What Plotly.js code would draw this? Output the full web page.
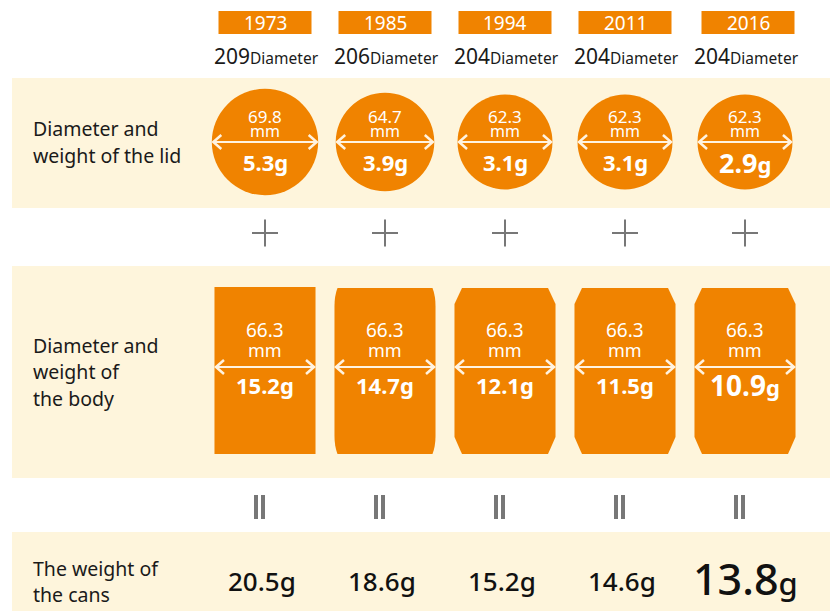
<!DOCTYPE html>
<html>
<head>
<meta charset="utf-8">
<script src="https://cdn.plot.ly/plotly-3.0.1.min.js"></script>
<style>html,body{margin:0;padding:0;background:#fff;}#chart{width:830px;height:611px;}</style>
</head>
<body>
<div id="chart"></div>
<script>
// ---- data ----
const years = ['1973', '1985', '1994', '2011', '2016'];
const canSize = [209, 206, 204, 204, 204];
const lidDiameter = [69.8, 64.7, 62.3, 62.3, 62.3];
const lidWeight = [5.3, 3.9, 3.1, 3.1, 2.9];
const bodyDiameter = [66.3, 66.3, 66.3, 66.3, 66.3];
const bodyWeight = [15.2, 14.7, 12.1, 11.5, 10.9];
const canWeight = [20.5, 18.6, 15.2, 14.6, 13.8];
const lidLabel = ['Diameter and', 'weight of the lid'];
const bodyLabel = ['Diameter and', 'weight of', 'the body'];
const totalLabel = ['The weight of', 'the cans'];

// ---- layout constants ----
const colX = [265, 385, 505, 625, 745];
const pxPerMm = 1.524;
const ORANGE = '#F08300';
const BAND = '#FEF5DC';
const GRAY = '#777777';
const ARROW = '#FFF3E0';
const FONT = 'Noto Sans, Open Sans, sans-serif';
const lidY = 142, bodyTop = 287, bodyBot = 454, bodyArrowY = 367;
const last = years.length - 1;

const shapes = [];
const ann = [];

// bands
[[78, 208], [266, 478], [532, 611]].forEach(b => {
  shapes.push({type: 'rect', xref: 'x', yref: 'y', x0: 12, x1: 830, y0: b[0], y1: b[1], fillcolor: BAND, line: {width: 0}, layer: 'below'});
});

// row labels (one annotation per line)
function rowLabel(lines, y0, step) {
  lines.forEach((t, k) => {
    ann.push({x: 32, y: y0 + k * step, xref: 'x', yref: 'y', xanchor: 'left', yanchor: 'middle', align: 'left', showarrow: false,
      borderpad: 0, text: t, font: {family: FONT, size: 19.5, color: '#1a1a1a'}});
  });
}
rowLabel(lidLabel, 128, 27);
rowLabel(bodyLabel, 345, 26.5);
rowLabel(totalLabel, 568, 26.5);

function arrow(cx, cy, half) {
  const l = cx - half + 1.5, r = cx + half - 1.5;
  shapes.push({type: 'line', xref: 'x', yref: 'y', x0: l, x1: r, y0: cy, y1: cy, line: {color: ARROW, width: 2}});
  shapes.push({type: 'path', xref: 'x', yref: 'y', path: `M ${l + 8},${cy - 7} L ${l},${cy} L ${l + 8},${cy + 7}`, line: {color: ARROW, width: 2.5}});
  shapes.push({type: 'path', xref: 'x', yref: 'y', path: `M ${r - 8},${cy - 7} L ${r},${cy} L ${r - 8},${cy + 7}`, line: {color: ARROW, width: 2.5}});
}

function weightText(v, i, big) {
  const s = v.toFixed(1);
  if (i === last) return `<b><span style="font-size:${big}px">${s}</span>g</b>`;
  return `<b>${s}g</b>`;
}

years.forEach((yr, i) => {
  const cx = colX[i];
  // year box
  const bx = cx + (i === last ? 3 : 0);
  shapes.push({type: 'rect', xref: 'x', yref: 'y', x0: bx - 46.5, x1: bx + 46.5, y0: 11, y1: 34, fillcolor: ORANGE, line: {width: 0}});
  ann.push({x: bx, y: 23, xref: 'x', yref: 'y', showarrow: false, borderpad: 0, text: yr, font: {family: FONT, size: 19, color: '#ffffff'}});
  ann.push({x: cx + 1, y: 56, xref: 'x', yref: 'y', showarrow: false, borderpad: 0,
    text: `${canSize[i]}<span style="font-size:15.5px">Diameter</span>`, font: {family: FONT, size: 21, color: '#1a1a1a'}});

  // lid circle
  const r = lidDiameter[i] * pxPerMm / 2;
  shapes.push({type: 'circle', xref: 'x', yref: 'y', x0: cx - r, x1: cx + r, y0: lidY - r, y1: lidY + r, fillcolor: ORANGE, line: {width: 0}});
  arrow(cx, lidY, r);
  ann.push({x: cx, y: lidY - 26, xref: 'x', yref: 'y', showarrow: false, borderpad: 0, text: lidDiameter[i].toFixed(1), font: {family: FONT, size: 17, color: '#fff'}});
  ann.push({x: cx, y: lidY - 11, xref: 'x', yref: 'y', showarrow: false, borderpad: 0, text: 'mm', font: {family: FONT, size: 16, color: '#fff'}});
  ann.push({x: cx, y: lidY + 20, xref: 'x', yref: 'y', showarrow: false, borderpad: 0, text: weightText(lidWeight[i], i, 27), font: {family: FONT, size: 22, color: '#fff'}});

  // plus
  shapes.push({type: 'line', xref: 'x', yref: 'y', x0: cx - 13, x1: cx + 13, y0: 233, y1: 233, line: {color: GRAY, width: 2}});
  shapes.push({type: 'line', xref: 'x', yref: 'y', x0: cx, x1: cx, y0: 219.5, y1: 246.5, line: {color: GRAY, width: 2}});

  // body
  const w = bodyDiameter[i] * pxPerMm / 2;
  const L = cx - w, R = cx + w;
  let p;
  if (i === 0) {
    p = `M ${L},${bodyTop} L ${R},${bodyTop} L ${R},${bodyBot} L ${L},${bodyBot} Z`;
  } else if (i === 1) {
    p = `M ${L + 3},${bodyTop + 1} L ${R - 3},${bodyTop + 1} Q ${R},${bodyTop + 9} ${R},${bodyTop + 19} L ${R},${bodyBot - 18} Q ${R},${bodyBot - 8} ${R - 3},${bodyBot} L ${L + 3},${bodyBot} Q ${L},${bodyBot - 8} ${L},${bodyBot - 18} L ${L},${bodyTop + 19} Q ${L},${bodyTop + 9} ${L + 3},${bodyTop + 1} Z`;
  } else {
    p = `M ${L + 7.5},${bodyTop + 1} L ${R - 7.5},${bodyTop + 1} L ${R},${bodyTop + 17} L ${R},${bodyBot - 17} L ${R - 7.5},${bodyBot} L ${L + 7.5},${bodyBot} L ${L},${bodyBot - 17} L ${L},${bodyTop + 17} Z`;
  }
  shapes.push({type: 'path', xref: 'x', yref: 'y', path: p, fillcolor: ORANGE, line: {width: 0}});
  arrow(cx, bodyArrowY, w);
  ann.push({x: cx, y: bodyArrowY - 37, xref: 'x', yref: 'y', showarrow: false, borderpad: 0, text: bodyDiameter[i].toFixed(1), font: {family: FONT, size: 19, color: '#fff'}});
  ann.push({x: cx, y: bodyArrowY - 17, xref: 'x', yref: 'y', showarrow: false, borderpad: 0, text: 'mm', font: {family: FONT, size: 18, color: '#fff'}});
  ann.push({x: cx, y: bodyArrowY + 18, xref: 'x', yref: 'y', showarrow: false, borderpad: 0, text: weightText(bodyWeight[i], i, 28), font: {family: FONT, size: 22, color: '#fff'}});

  // equals (||)
  [-7, 0].forEach(d => {
    shapes.push({type: 'rect', xref: 'x', yref: 'y', x0: cx - 4 + d, x1: cx + d, y0: 495, y1: 519, fillcolor: GRAY, line: {width: 0}});
  });

  // total weight
  const tw = canWeight[i].toFixed(1);
  const txt = i === last ? `<span style="font-size:43px">${tw}</span>g` : `${tw}g`;
  ann.push({x: cx - 3 + (i === last ? 3 : 0), y: i === last ? 578 : 581, xref: 'x', yref: 'y', showarrow: false, borderpad: 0, text: txt,
    font: {family: FONT, size: i === last ? 31 : 26, color: '#111', weight: 500}});
});

const layout = {
  width: 830, height: 611,
  margin: {l: 0, r: 0, t: 0, b: 0},
  paper_bgcolor: '#ffffff', plot_bgcolor: '#ffffff',
  xaxis: {range: [0, 830], visible: false, fixedrange: true},
  yaxis: {range: [611, 0], visible: false, fixedrange: true},
  shapes: shapes, annotations: ann, showlegend: false
};
const traces = [{x: colX, y: canWeight.map(() => 580), mode: 'markers', marker: {opacity: 0}, hoverinfo: 'skip', type: 'scatter'}];
Plotly.newPlot('chart', traces, layout, {staticPlot: true, displayModeBar: false});
</script>
</body>
</html>
